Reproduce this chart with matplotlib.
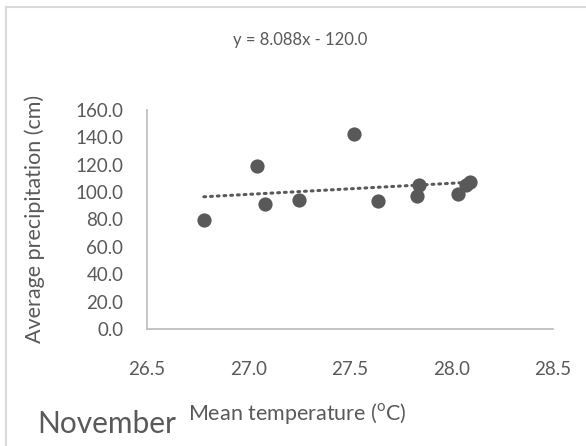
import matplotlib.pyplot as plt
from matplotlib.lines import Line2D

# data
temperature = [26.78, 27.04, 27.08, 27.25, 27.52, 27.64, 27.83, 27.84, 28.03, 28.07, 28.09]
precipitation = [79.5, 119.0, 91.5, 94.0, 142.5, 93.5, 97.0, 105.5, 98.5, 105.5, 107.5]
slope = 8.088
intercept = -120.0
x_ticks = [26.5, 27.0, 27.5, 28.0, 28.5]
y_ticks = [0, 20, 40, 60, 80, 100, 120, 140, 160]

text_grey = '#595959'
axis_grey = '#BFBFBF'

plt.rcParams['font.family'] = ['Lato', 'DejaVu Sans']

fig = plt.figure(figsize=(5.86, 4.46), dpi=100)
W, H = 586, 446
ax = fig.add_axes([147 / W, 1 - 329 / H, (553 - 147) / W, (329 - 110) / H])

ax.scatter(temperature, precipitation, s=105, color=text_grey, zorder=3, linewidths=0)

t0, t1 = min(temperature), max(temperature)
ax.plot([t0, t1], [slope * t0 + intercept, slope * t1 + intercept],
        color=text_grey, lw=2.2, linestyle=(0, (0.6, 1.6)),
        dash_capstyle='round', zorder=2)

ax.set_xlim(26.5, 28.5)
ax.set_ylim(0, 160)
ax.set_xticks(x_ticks)
ax.set_xticklabels([f'{v:.1f}' for v in x_ticks])
ax.set_yticks(y_ticks)
ax.set_yticklabels([f'{v:.1f}' for v in y_ticks])
ax.tick_params(length=0, labelsize=13.5, colors=text_grey)
ax.tick_params(axis='x', pad=23)
ax.tick_params(axis='y', pad=17)
for side in ['top', 'right']:
    ax.spines[side].set_visible(False)
for side in ['left', 'bottom']:
    ax.spines[side].set_color(axis_grey)
    ax.spines[side].set_linewidth(1.3)

fig.text(35 / W, 1 - 219 / H, 'Average precipitation (cm)', rotation=90,
         ha='center', va='center', fontsize=15.5, color=text_grey)

fig.text(300 / W, 1 - 40 / H, 'y = 8.088x - 120.0', ha='center', va='center',
         fontsize=12, color=text_grey)
fig.text(297 / W, 1 - 414 / H, r'Mean temperature ($^{\mathregular{o}}$C)',
         ha='center', va='center', fontsize=15.5, color=text_grey)
fig.text(37 / W, 1 - 424 / H, 'November', ha='left', va='center',
         fontsize=21.5, color=text_grey)

# chart border (only top and left edges are inside the picture)
fig.add_artist(Line2D([6 / W, 6 / W], [0, 1 - 7 / H], transform=fig.transFigure,
                      color='#D9D9D9', lw=1.5))
fig.add_artist(Line2D([6 / W, 1], [1 - 7 / H, 1 - 7 / H], transform=fig.transFigure,
                      color='#D9D9D9', lw=1.5))

fig.savefig('out.png', dpi=100)
